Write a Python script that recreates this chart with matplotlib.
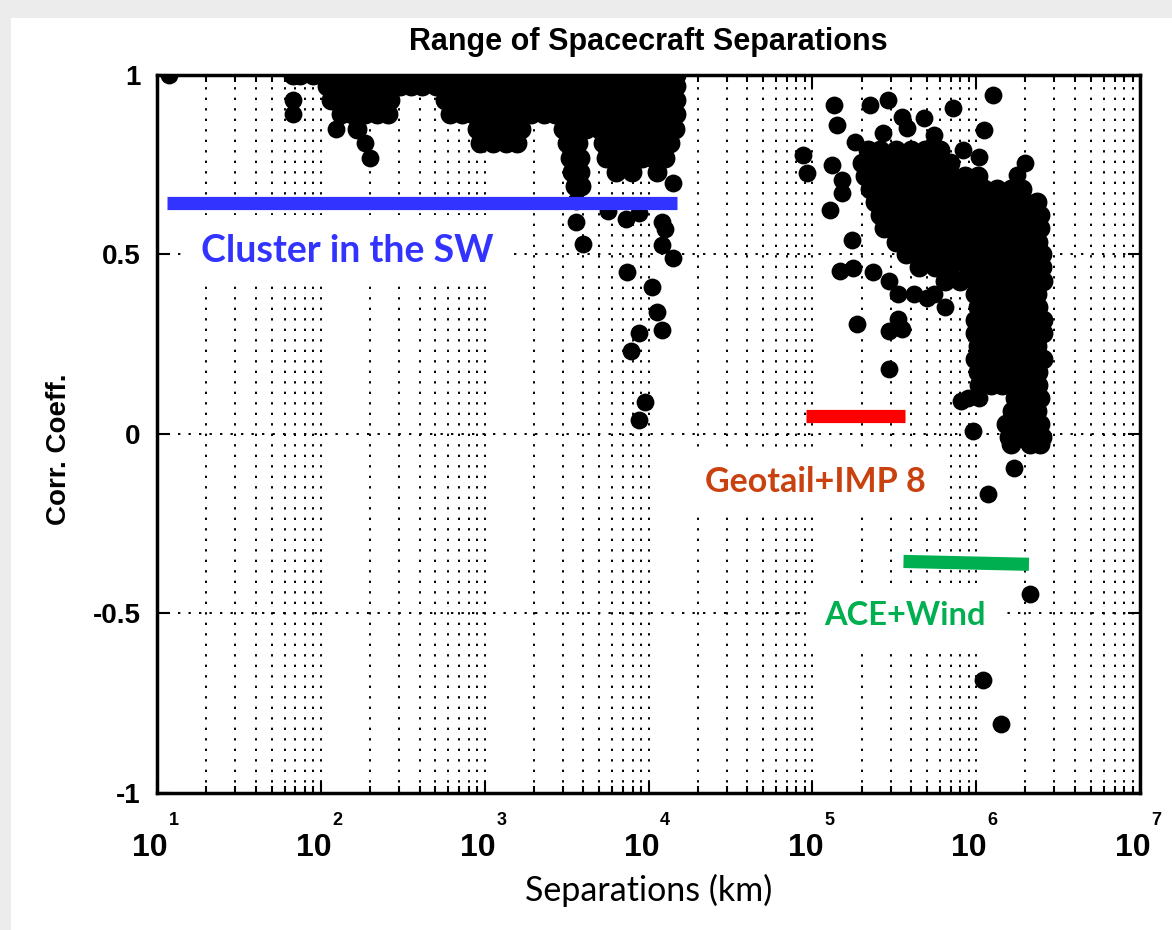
import numpy as np
import matplotlib.pyplot as plt
from matplotlib.ticker import LogLocator, FixedLocator, FixedFormatter, NullFormatter
from matplotlib.patches import Rectangle
from matplotlib.transforms import ScaledTranslation

# log10(separation / km) and correlation coefficient
# Cluster in the solar wind: dense band near cc = 1, rows of (cc, [log10 sep])
near_band = [
    (1.00, [1.83, 1.87, 1.95, 2.02, 2.09, 2.17, 2.24, 2.31, 2.39, 2.46, 2.53, 2.61,
            2.68, 2.75, 2.83, 2.90, 2.97, 3.05, 3.12, 3.19, 3.27, 3.34, 3.41, 3.49, 3.56,
            3.63, 3.71, 3.78, 3.85, 3.92, 4.00, 4.07, 4.13, 4.17]),
    (0.97, [2.04, 2.11, 2.18, 2.26, 2.33, 2.40, 2.48, 2.55, 2.62, 2.70, 2.77, 2.84, 2.92,
            2.99, 3.06, 3.14, 3.21, 3.28, 3.36, 3.43, 3.50, 3.58, 3.65, 3.72, 3.80, 3.87,
            3.94, 4.02, 4.09, 4.14, 4.17]),
    (0.93, [2.06, 2.13, 2.20, 2.28, 2.35, 2.42, 2.76, 2.83, 2.91, 2.98, 3.05, 3.13,
            3.20, 3.27, 3.35, 3.42, 3.49, 3.57, 3.64, 3.71, 3.79, 3.86, 3.93, 4.01, 4.08,
            4.13, 4.17]),
    (0.89, [2.12, 2.19, 2.27, 2.34, 2.41, 2.79, 2.86, 2.93, 3.00, 3.07, 3.14, 3.21,
            3.28, 3.36, 3.43, 3.50, 3.57, 3.64, 3.71, 3.78, 3.86, 3.93, 4.00, 4.08, 4.13,
            4.17]),
    (0.85, [2.22, 2.95, 3.02, 3.09, 3.16, 3.22, 3.48, 3.55, 3.62, 3.70, 3.77, 3.84,
            3.92, 3.99, 4.06, 4.12, 4.16]),
    (0.81, [2.97, 3.05, 3.13, 3.20, 3.50, 3.57, 3.72, 3.79, 3.86, 3.94, 4.01, 4.08,
            4.13]),
    (0.77, [3.52, 3.58, 3.74, 3.81, 3.88, 3.96, 4.03, 4.10]),
    (0.73, [3.53, 3.58, 3.80, 3.90, 4.05]),
    (0.69, [3.55, 3.59]),
]

# Cluster: single points (log10 sep, cc)
near_tail = [
    (1.07, 1.00), (1.83, 0.93), (1.83, 0.89), (2.09, 0.85), (2.27, 0.81), (2.30, 0.77),
    (3.56, 0.65), (3.56, 0.59), (3.60, 0.53), (3.75, 0.62), (3.86, 0.60), (3.94, 0.615),
    (4.08, 0.59), (4.10, 0.57), (4.08, 0.525), (4.15, 0.49), (4.15, 0.70), (3.87, 0.45),
    (4.02, 0.41), (4.05, 0.34), (4.08, 0.29), (3.94, 0.28), (3.89, 0.23), (3.98, 0.09),
    (3.94, 0.04),
]

# large separations: dense core, rows of (cc, [log10 sep])
far_core = [
    (0.790, [5.34, 5.41, 5.51, 5.60, 5.69, 5.78]),
    (0.754, [5.30, 5.38, 5.46, 5.54, 5.61, 5.69, 5.76, 5.84]),
    (0.718, [5.32, 5.40, 5.47, 5.55, 5.63, 5.71, 5.78, 5.85, 5.93, 6.01]),
    (0.682, [5.35, 5.43, 5.51, 5.58, 5.66, 5.73, 5.80, 5.88, 5.96, 6.05, 6.13, 6.21, 6.28]),
    (0.645, [5.38, 5.47, 5.57, 5.65, 5.72, 5.81, 5.90, 5.99, 6.07, 6.15, 6.22, 6.30, 6.37]),
    (0.609, [5.41, 5.51, 5.60, 5.69, 5.76, 5.84, 5.93, 6.02, 6.10, 6.18, 6.26, 6.33, 6.39]),
    (0.573, [5.44, 5.54, 5.63, 5.72, 5.81, 5.89, 5.96, 6.05, 6.15, 6.24, 6.33, 6.39]),
    (0.536, [5.51, 5.60, 5.69, 5.78, 5.87, 5.95, 6.04, 6.12, 6.21, 6.30, 6.38]),
    (0.500, [5.57, 5.65, 5.73, 5.83, 5.91, 5.99, 6.09, 6.16, 6.25, 6.33, 6.40]),
    (0.464, [5.65, 5.75, 5.84, 5.95, 6.05, 6.15, 6.24, 6.33, 6.40]),
    (0.427, [5.81, 5.90, 5.99, 6.09, 6.18, 6.27, 6.36, 6.41]),
    (0.391, [5.99, 6.07, 6.15, 6.22, 6.30, 6.37]),
    (0.355, [6.01, 6.09, 6.16, 6.23, 6.31, 6.38]),
    (0.318, [5.99, 6.07, 6.14, 6.21, 6.29, 6.36, 6.41]),
    (0.282, [5.99, 6.07, 6.14, 6.21, 6.29, 6.36, 6.41]),
    (0.246, [6.01, 6.08, 6.15, 6.23, 6.30, 6.37]),
    (0.209, [5.99, 6.07, 6.14, 6.21, 6.29, 6.36, 6.41]),
    (0.173, [6.01, 6.09, 6.16, 6.23, 6.31, 6.38]),
    (0.137, [6.02, 6.09, 6.16, 6.23, 6.31, 6.38]),
    (0.101, [6.24, 6.32, 6.39]),
    (0.064, [6.22, 6.29, 6.37]),
    (0.028, [6.18, 6.25, 6.32, 6.39]),
    (-0.008, [6.20, 6.27, 6.34, 6.40]),
    (-0.028, [6.21, 6.33, 6.39]),
]

# large separations: single points (log10 sep, cc)
far_scatter = [
    (4.94, 0.777), (4.97, 0.726), (5.13, 0.916), (5.15, 0.860), (5.35, 0.916), (5.46, 0.930),
    (5.55, 0.883), (5.58, 0.852), (5.68, 0.880), (5.74, 0.832), (5.86, 0.908), (6.10, 0.944),
    (6.05, 0.846), (5.92, 0.791), (5.81, 0.757), (6.02, 0.771), (6.30, 0.754), (6.25, 0.721),
    (5.43, 0.838), (5.26, 0.813), (5.12, 0.749), (5.18, 0.707), (5.18, 0.670), (5.11, 0.623),
    (5.24, 0.539), (5.17, 0.455), (5.25, 0.461), (5.37, 0.450), (5.47, 0.427), (5.52, 0.391),
    (5.62, 0.391), (5.70, 0.380), (5.27, 0.307), (5.52, 0.321), (5.47, 0.288), (5.55, 0.293),
    (5.47, 0.182), (5.91, 0.092), (5.98, 0.008), (6.23, -0.095), (6.07, -0.168),
    (6.33, -0.447), (6.04, -0.684), (6.15, -0.807), (5.80, 0.763), (5.35, 0.768),
    (5.74, 0.391), (5.81, 0.355), (5.95, 0.101), (6.02, 0.101),
]

# separation ranges of the missions: (start km, end km, cc at start, cc at end)
cluster_range = (11.5, 1.5e4, 0.642, 0.642)
geotail_range = (9.2e4, 3.7e5, 0.050, 0.050)
acewind_range = (3.6e5, 2.1e6, -0.355, -0.363)

labels = ["Cluster in the SW", "Geotail+IMP 8", "ACE+Wind"]
label_colors = ["#3333ff", "#c8410e", "#00b050"]
line_colors = ["#3333ff", "#ff0000", "#00b050"]

x_ticks = [1e1, 1e2, 1e3, 1e4, 1e5, 1e6, 1e7]
x_exponents = ["1", "2", "3", "4", "5", "6", "7"]
y_ticks = [-1, -0.5, 0, 0.5, 1]
y_ticklabels = ["-1", "-0.5", "0", "0.5", "1"]


def unpack_rows(rows):
    lx, cc = [], []
    for c, xs in rows:
        lx += xs
        cc += [c] * len(xs)
    return 10 ** np.array(lx), np.array(cc)


def unpack_pairs(pairs):
    lx, cc = zip(*pairs)
    return 10 ** np.array(lx), np.array(cc)


plt.rcParams['font.family'] = ['Liberation Sans Narrow', 'Liberation Sans', 'DejaVu Sans']
plt.rcParams['font.weight'] = 'bold'

fig = plt.figure(figsize=(11.72, 9.30), dpi=100, facecolor='#ececec')
fig.patches.append(Rectangle((11 / 1172, 0), 1, 912 / 930, transform=fig.transFigure,
                             facecolor='white', edgecolor='none', zorder=-10))
ax = fig.add_axes([0.134, 0.1473, 0.8387, 0.7721])

# dense rows get a slightly larger dot so that they merge into solid blobs
for rows in (near_band, far_core):
    xs, ys = unpack_rows(rows)
    ax.scatter(xs, ys, s=205, c='black', marker='o', linewidths=0, zorder=3)
for pairs in (near_tail, far_scatter):
    xs, ys = unpack_pairs(pairs)
    ax.scatter(xs, ys, s=165, c='black', marker='o', linewidths=0, zorder=3)

for (xa, xb, ya, yb), col in zip([cluster_range, geotail_range, acewind_range], line_colors):
    ax.plot([xa, xb], [ya, yb], color=col, lw=9.5, solid_capstyle='butt', zorder=4)

box = dict(boxstyle='square,pad=0.5', facecolor='white', edgecolor='none')
txt_kw = dict(family=['Lato', 'DejaVu Sans'], fontweight='bold', ha='center', va='center',
              zorder=2, bbox=box)
ax.text(1.45e2, 0.511, labels[0], color=label_colors[0], fontsize=27, **txt_kw)
ax.text(1.05e5, -0.134, labels[1], color=label_colors[1], fontsize=24.5, **txt_kw)
ax.text(3.66e5, -0.506, labels[2], color=label_colors[2], fontsize=23.5, **txt_kw)

ax.set_xscale('log')
ax.set_xlim(10, 1e7)
ax.set_ylim(-1, 1)
ax.xaxis.set_major_locator(FixedLocator(x_ticks))
ax.xaxis.set_major_formatter(FixedFormatter(["10"] * len(x_ticks)))
ax.xaxis.set_minor_locator(LogLocator(base=10, subs=np.arange(2, 10), numticks=100))
ax.xaxis.set_minor_formatter(NullFormatter())
ax.yaxis.set_major_locator(FixedLocator(y_ticks))
ax.yaxis.set_major_formatter(FixedFormatter(y_ticklabels))

grid_kw = dict(color='black', lw=1.4, ls=(0, (1.2, 4.2)))
ax.xaxis.grid(True, which='both', **grid_kw)
ax.yaxis.grid(True, which='major', **grid_kw)
ax.set_axisbelow(True)

ax.tick_params(which='both', direction='in', top=True, right=True, width=1.5)
ax.tick_params(which='major', length=9)
ax.tick_params(which='minor', length=5)
ax.tick_params(axis='y', labelsize=20, pad=12)
ax.tick_params(axis='x', labelsize=23, pad=29)
for sp in ax.spines.values():
    sp.set_linewidth(2.5)

# MATLAB-style exponents above the "10" labels
sec = ax.secondary_xaxis('bottom')
sec.xaxis.set_major_locator(FixedLocator(x_ticks))
sec.xaxis.set_major_formatter(FixedFormatter(x_exponents))
sec.xaxis.set_minor_locator(FixedLocator([]))
sec.tick_params(which='both', length=0, pad=14, labelsize=13)
sec.spines['bottom'].set_visible(False)

shift_base = ScaledTranslation(-5 / 72, 0, fig.dpi_scale_trans)
shift_exp = ScaledTranslation(12 / 72, 0, fig.dpi_scale_trans)
for lab in ax.get_xticklabels():
    lab.set_transform(lab.get_transform() + shift_base)
for lab in sec.get_xticklabels():
    lab.set_transform(lab.get_transform() + shift_exp)

ax.set_title('Range of Spacecraft Separations', fontsize=22, fontweight='bold', pad=18)
ax.set_ylabel('Corr. Coeff.', fontsize=20, fontweight='bold')
ax.yaxis.set_label_coords(-0.0865, 0.479)
ax.set_xlabel('Separations (km)', family=['Lato', 'DejaVu Sans'], fontweight='normal',
              fontsize=24.5)
ax.xaxis.set_label_coords(0.5, -0.112)

fig.savefig('out.png', dpi=100, facecolor=fig.get_facecolor())
